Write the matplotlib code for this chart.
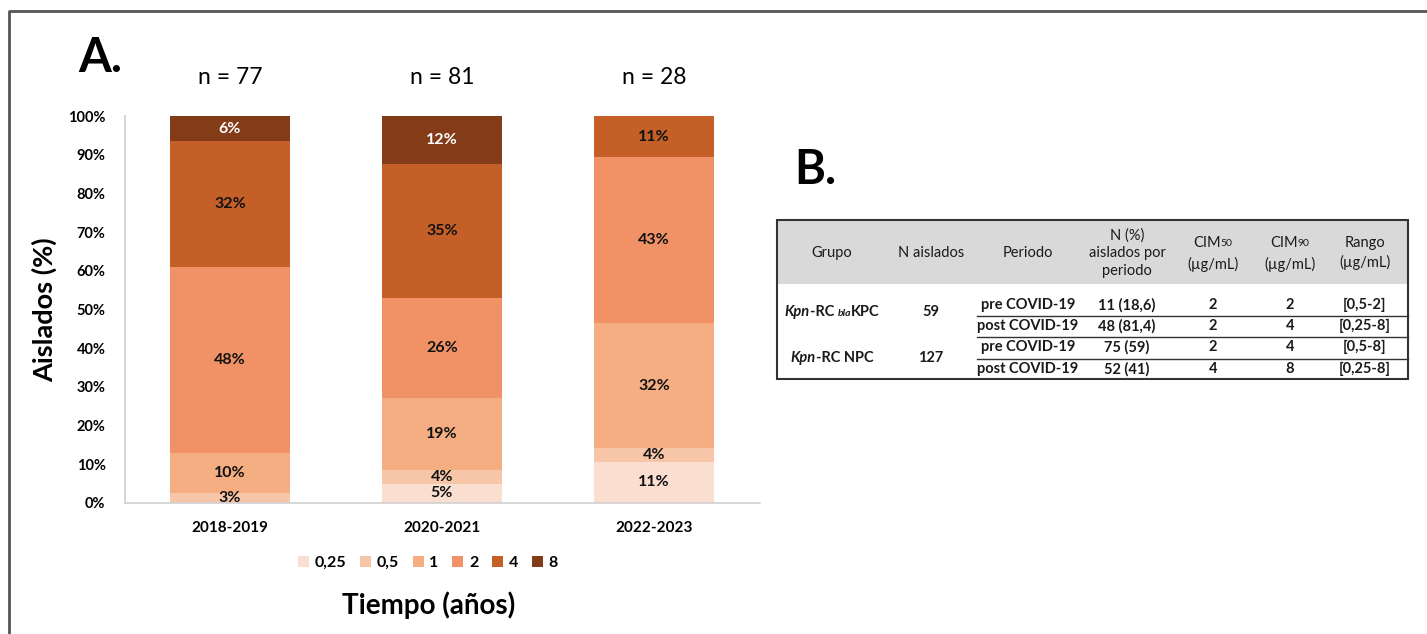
import matplotlib
matplotlib.use("Agg")
import matplotlib.pyplot as plt
import numpy as np
from matplotlib.patches import Rectangle
from matplotlib.offsetbox import TextArea, HPacker, AnnotationBbox

plt.rcParams['font.family'] = ['Lato', 'DejaVu Sans']

# isolates per period and their MIC distribution (counts)
periodos = ["2018-2019", "2020-2021", "2022-2023"]
n_total = [77, 81, 28]
cim = ["0,25", "0,5", "1", "2", "4", "8"]
cuentas = {
    "0,25": [0, 4, 3],
    "0,5": [2, 3, 1],
    "1": [8, 15, 9],
    "2": [37, 21, 12],
    "4": [25, 28, 3],
    "8": [5, 10, 0],
}
colores = ["#FADFD0", "#F7C6A8", "#F4AE82", "#F19266", "#C45F28", "#843B18"]

# table B
encabezado = ["Grupo", "N aislados", "Periodo", "N (%)\naislados por\nperiodo",
              "CIM50\n(µg/mL)", "CIM90\n(µg/mL)", "Rango\n(µg/mL)"]
grupos = ["Kpn-RC blaKPC", "Kpn-RC NPC"]
n_grupo = ["59", "127"]
periodo_tabla = ["pre COVID-19", "post COVID-19", "pre COVID-19", "post COVID-19"]
n_pct = ["11 (18,6)", "48 (81,4)", "75 (59)", "52 (41)"]
cim50 = ["2", "2", "2", "4"]
cim90 = ["2", "4", "4", "8"]
rango = ["[0,5-2]", "[0,25-8]", "[0,5-8]", "[0,25-8]"]

W, H = 1427, 634
fig = plt.figure(figsize=(W / 100, H / 100), dpi=100)

# overlay in pixel coordinates for frame, titles and table
ov = fig.add_axes([0, 0, 1, 1])
ov.set_xlim(0, W)
ov.set_ylim(H, 0)
ov.axis('off')
ov.plot([9, 9, W], [H, 11, 11], color="#555555", lw=2, solid_capstyle='butt')

ov.text(100, 58, "A.", fontsize=34, fontweight='bold', ha='center', va='center')
ov.text(815, 170, "B.", fontsize=34, fontweight='bold', ha='center', va='center')

# stacked bars
ax = fig.add_axes([125 / W, (H - 503) / H, 635 / W, 387 / H])
x = np.arange(len(periodos))
base = np.zeros(len(periodos))
for k, c in enumerate(cim):
    pct = np.array(cuentas[c]) / np.array(n_total) * 100
    ax.bar(x, pct, bottom=base, width=0.57, color=colores[k], label=c, linewidth=0)
    for i in range(len(x)):
        if pct[i] > 0:
            ax.text(x[i], base[i] + pct[i] / 2, f"{round(pct[i])}%",
                    ha='center', va='center', fontsize=11.5, fontweight='bold',
                    color='white' if c == "8" else '#111111')
    base += pct

ax.set_xlim(-0.495, 2.5)
ax.set_ylim(0, 100)
ax.set_yticks(np.arange(0, 101, 10))
ax.set_yticklabels([f"{v}%" for v in range(0, 101, 10)], fontsize=10.5, fontweight='bold')
ax.set_xticks(x)
ax.set_xticklabels(periodos, fontsize=11, fontweight='bold')
ax.tick_params(length=0)
ax.tick_params(axis='y', pad=14)
ax.tick_params(axis='x', pad=13)
for s in ['top', 'right']:
    ax.spines[s].set_visible(False)
for s in ['left', 'bottom']:
    ax.spines[s].set_color('#D0D0D0')
    ax.spines[s].set_linewidth(1.2)

ax.set_ylabel("Aislados (%)", fontsize=19.5, fontweight='bold', labelpad=8)

for i, n in enumerate(n_total):
    ax.text(x[i], 1.10, f"n = {n}", transform=ax.get_xaxis_transform(),
            ha='center', va='center', fontsize=16.5)

leg = ax.legend(loc='center', bbox_to_anchor=(0.477, -0.155), ncol=6, frameon=False,
                handlelength=0.7, handleheight=0.7, handletextpad=0.35,
                columnspacing=0.85, prop={'weight': 'bold', 'size': 11.5})

ov.text(429, 605, "Tiempo (años)", fontsize=20, fontweight='bold', ha='center', va='center')

# table
tc = '#1a1a1a'
fs = 10.5
ov.add_patch(Rectangle((777, 220), 631, 64, facecolor='#D9D9D9', edgecolor='none'))
ov.add_patch(Rectangle((777, 220), 631, 159, facecolor='none', edgecolor='#333333', lw=1.5))
for yl in [316, 337, 359]:
    ov.plot([977, 1408], [yl, yl], color='#333333', lw=1)

col_x = [832, 931, 1028, 1127, 1213, 1290, 1365]
for cx, head in zip(col_x, encabezado):
    if head.startswith("CIM"):
        box = HPacker(children=[TextArea("CIM", textprops=dict(fontsize=fs, color=tc)),
                                TextArea(head[3:5], textprops=dict(fontsize=7.5, color=tc))],
                      pad=0, sep=0, align='center')
        ov.add_artist(AnnotationBbox(box, (cx, 243), xycoords='data', frameon=False,
                                     box_alignment=(0.5, 0.5)))
        ov.text(cx, 264, head.split("\n")[1], fontsize=fs, color=tc, ha='center', va='center')
    else:
        ov.text(cx, 253, head, fontsize=fs, color=tc, ha='center', va='center', linespacing=1.35)

row_y = [305, 326, 347, 369]
for j, yy in enumerate(row_y):
    for cx, val in zip(col_x[2:], [periodo_tabla[j], n_pct[j], cim50[j], cim90[j], rango[j]]):
        ov.text(cx, yy, val, fontsize=fs, fontweight='bold', color=tc, ha='center', va='center')

grupo_y = [312, 358]
for g, yy in enumerate(grupo_y):
    bold = dict(fontsize=fs, fontweight='bold', color=tc)
    ital = dict(fontsize=fs, fontweight='bold', fontstyle='italic', color=tc)
    if g == 0:
        partes = [TextArea("Kpn", textprops=ital), TextArea("-RC ", textprops=bold),
                  TextArea("bla", textprops=dict(fontsize=7.5, fontweight='bold',
                                                 fontstyle='italic', color=tc)),
                  TextArea("KPC", textprops=bold)]
    else:
        partes = [TextArea("Kpn", textprops=ital), TextArea("-RC NPC", textprops=bold)]
    box = HPacker(children=partes, pad=0, sep=0, align='baseline')
    ov.add_artist(AnnotationBbox(box, (col_x[0], yy), xycoords='data', frameon=False,
                                 box_alignment=(0.5, 0.5)))
    ov.text(col_x[1], yy, n_grupo[g], fontsize=fs, fontweight='bold', color=tc,
            ha='center', va='center')

fig.savefig("out.png", dpi=100)
